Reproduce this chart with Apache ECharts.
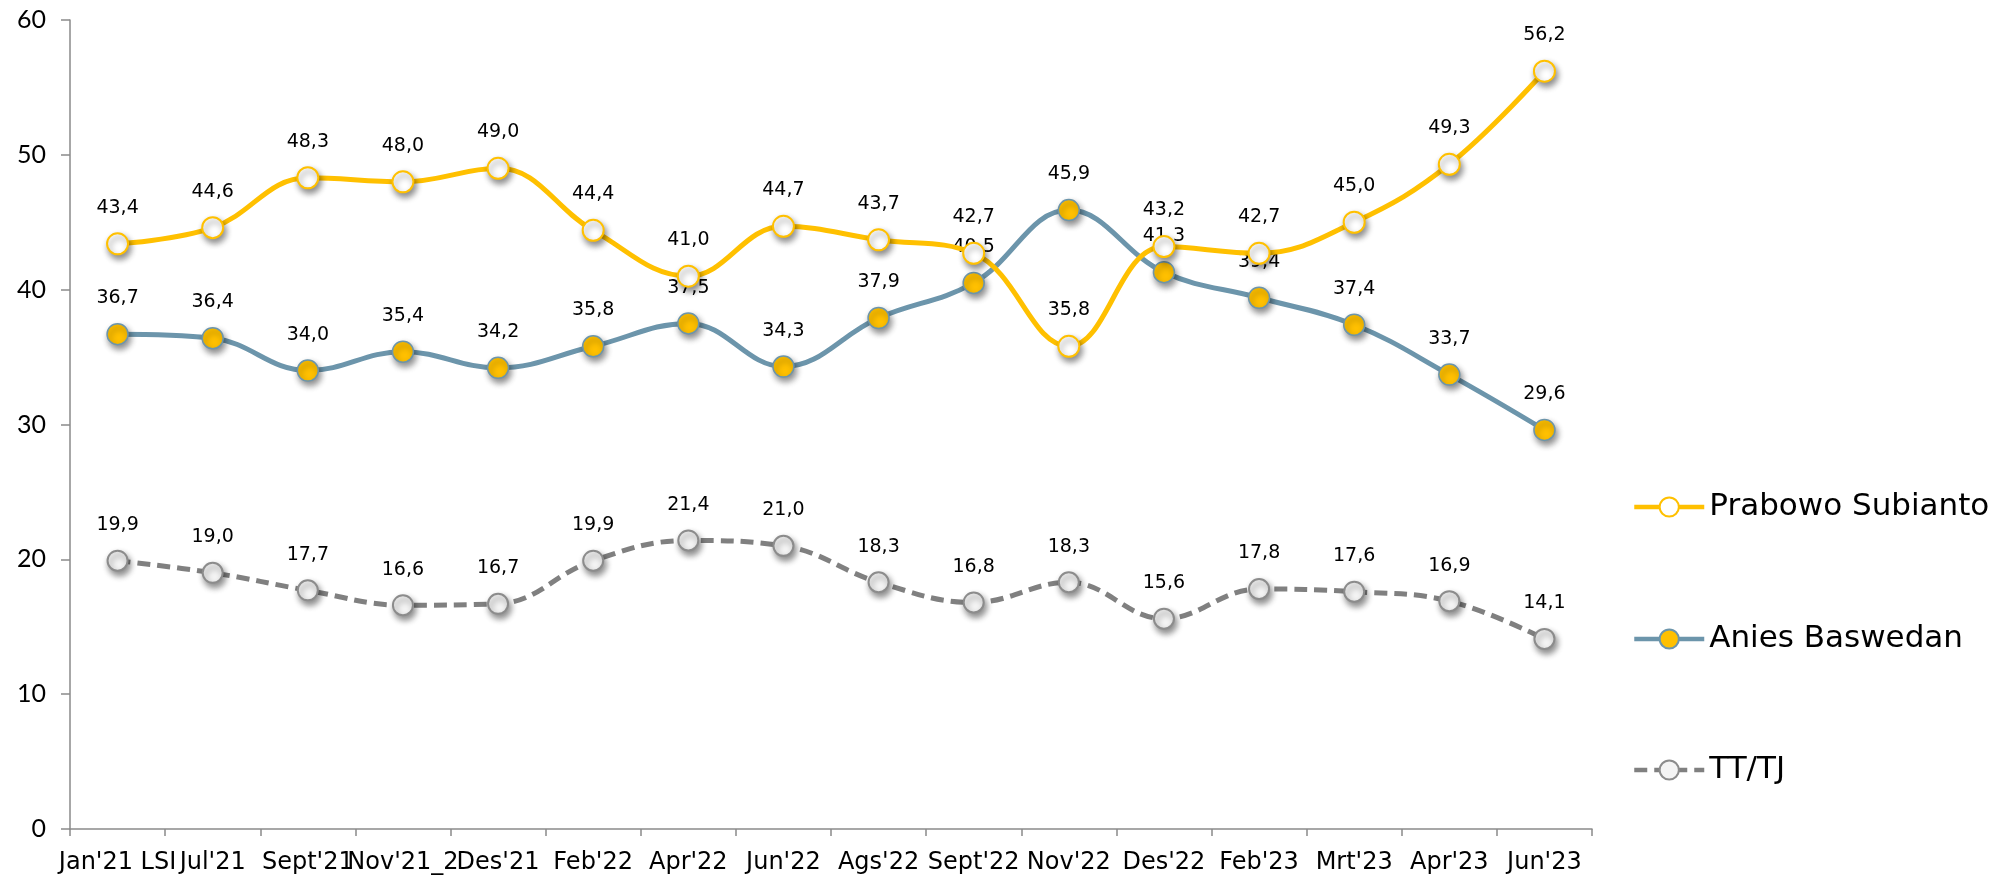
<!DOCTYPE html>
<html>
<head>
<meta charset="utf-8">
<script src="https://cdn.jsdelivr.net/npm/echarts@6/dist/echarts.min.js"></script>
<style>
  html, body { margin: 0; padding: 0; background: #fff; }
  #chart { width: 2005px; height: 879px; }
</style>
</head>
<body>
<div id="chart"></div>
<script>
const categories = ["Jan'21 LSI", "Jul'21", "Sept'21", "Nov'21_2", "Des'21", "Feb'22", "Apr'22", "Jun'22",
  "Ags'22", "Sept'22", "Nov'22", "Des'22", "Feb'23", "Mrt'23", "Apr'23", "Jun'23"];
const prabowo = [43.4, 44.6, 48.3, 48.0, 49.0, 44.4, 41.0, 44.7, 43.7, 42.7, 35.8, 43.2, 42.7, 45.0, 49.3, 56.2];
const anies = [36.7, 36.4, 34.0, 35.4, 34.2, 35.8, 37.5, 34.3, 37.9, 40.5, 45.9, 41.3, 39.4, 37.4, 33.7, 29.6];
const ttTj = [19.9, 19.0, 17.7, 16.6, 16.7, 19.9, 21.4, 21.0, 18.3, 16.8, 18.3, 15.6, 17.8, 17.6, 16.9, 14.1];
const yTicks = [0, 10, 20, 30, 40, 50, 60];

const labelFont = "DejaVu Sans";
const shadow = { shadowColor: "rgba(0,0,0,0.45)", shadowBlur: 6, shadowOffsetX: 2, shadowOffsetY: 4 };

function dataLabel() {
  return {
    show: true,
    position: "top",
    distance: 15,
    fontFamily: labelFont,
    fontSize: 19,
    color: "#000",
    formatter: p => p.value.toFixed(1).replace(".", ",")
  };
}

function legendFor(name, centerY) {
  return {
    data: [name],
    left: 1627,
    top: centerY - 18,
    itemWidth: 70,
    itemHeight: 24,
    selectedMode: false,
    lineStyle: { width: 4.5 },
    textStyle: { fontFamily: labelFont, fontSize: 31, color: "#000", lineHeight: 36 }
  };
}

const chart = echarts.init(document.getElementById("chart"));
chart.setOption({
  animation: false,
  backgroundColor: "#fff",
  grid: { left: 70, right: 413, top: 20, bottom: 50 },
  legend: [
    legendFor("Prabowo Subianto", 502),
    legendFor("Anies Baswedan", 634),
    legendFor("TT/TJ", 765)
  ],
  xAxis: {
    type: "category",
    data: categories,
    axisLine: { lineStyle: { color: "#8a8a8a", width: 1.5 } },
    axisTick: { show: true, length: 7, lineStyle: { color: "#8a8a8a", width: 1.5 } },
    axisLabel: { interval: 0, margin: 22, fontFamily: labelFont, fontSize: 24, color: "#000" }
  },
  yAxis: {
    type: "value",
    min: yTicks[0],
    max: yTicks[yTicks.length - 1],
    interval: 10,
    splitLine: { show: false },
    axisLine: { show: true, lineStyle: { color: "#8a8a8a", width: 1.5 } },
    axisTick: { show: true, length: 9, lineStyle: { color: "#8a8a8a", width: 1.5 } },
    axisLabel: { margin: 24, fontFamily: "Lato", fontSize: 25, color: "#000" }
  },
  series: [
    {
      name: "Prabowo Subianto",
      type: "line",
      data: prabowo,
      smooth: 0.4,
      symbol: "circle",
      symbolSize: 21,
      lineStyle: { color: "#FFC000", width: 5 },
      itemStyle: Object.assign({ color: "#ffffff", borderColor: "#FFC000", borderWidth: 2 }, shadow),
      label: dataLabel(),
      z: 3
    },
    {
      name: "Anies Baswedan",
      type: "line",
      data: anies,
      smooth: 0.4,
      symbol: "circle",
      symbolSize: 21,
      lineStyle: { color: "#6C95AB", width: 5 },
      itemStyle: Object.assign({ color: "#FFC000", borderColor: "#6C95AB", borderWidth: 1.5 }, shadow),
      label: dataLabel(),
      z: 2
    },
    {
      name: "TT/TJ",
      type: "line",
      data: ttTj,
      smooth: 0.4,
      symbol: "circle",
      symbolSize: 20,
      lineStyle: { color: "#808080", width: 5, type: [13, 7] },
      itemStyle: Object.assign({ color: "#f4f4f4", borderColor: "#8c8c8c", borderWidth: 2 }, shadow),
      label: dataLabel(),
      z: 2
    }
  ]
});
</script>
</body>
</html>
